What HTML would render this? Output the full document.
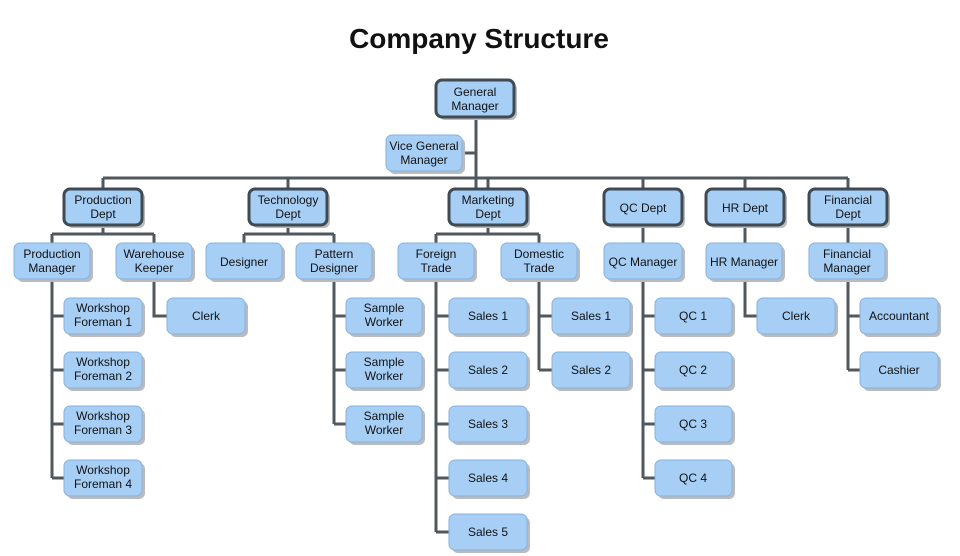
<!DOCTYPE html>
<html><head><meta charset="utf-8"><style>
html,body{margin:0;padding:0;background:#fff;}
svg{display:block}
text{font-family:"Liberation Sans",Arial,sans-serif;font-size:12px;fill:#111;text-anchor:middle}
.t{font-size:28px;font-weight:bold}
.n{fill:#a7cff6;stroke:#86b2de;stroke-width:1}
.d{fill:#a7cff6;stroke:#3f4a52;stroke-width:3}
.s{fill:#b9bcbf}
.l{stroke:#50585e;stroke-width:3;fill:none}
</style></head><body>
<svg width="960" height="556" viewBox="0 0 960 556">
<text class="t" x="479" y="48">Company Structure</text>
<g class="l">
<path d="M476 117V178M462 153H476M103 178H848"/>
<path d="M103 178V189M288 178V189M488 178V189M643 178V189M745 178V189M848 178V189M476 117V189"/>
<path d="M103 225V234M52 234H154M52 234V243M154 234V243"/>
<path d="M288 225V234M244 234H334M244 234V243M334 234V243"/>
<path d="M488 225V234M436 234H539M436 234V243M539 234V243"/>
<path d="M643 225V243M745 225V243M848 225V243"/>
<path d="M52 279V478M52 316H64M52 370H64M52 424H64M52 478H64"/>
<path d="M154 279V316H167"/>
<path d="M334 279V424M334 316H346M334 370H346M334 424H346"/>
<path d="M436 279V532M436 316H449M436 370H449M436 424H449M436 478H449M436 532H449"/>
<path d="M539 279V370M539 316H552M539 370H552"/>
<path d="M643 279V478M643 316H655M643 370H655M643 424H655M643 478H655"/>
<path d="M745 279V316H757"/>
<path d="M848 279V370M848 316H860M848 370H860"/>
</g>
<g>
<g class="s">
<rect x="439" y="83" width="78" height="37" rx="6"/>
<rect x="389" y="138" width="76" height="36" rx="6"/>
<rect x="67" y="192" width="78" height="36" rx="6"/><rect x="252" y="192" width="78" height="36" rx="6"/><rect x="452" y="192" width="78" height="36" rx="6"/><rect x="607" y="192" width="78" height="36" rx="6"/><rect x="709" y="192" width="78" height="36" rx="6"/><rect x="812" y="192" width="78" height="36" rx="6"/>
<rect x="17" y="246" width="76" height="36" rx="6"/><rect x="119" y="246" width="76" height="36" rx="6"/><rect x="209" y="246" width="76" height="36" rx="6"/><rect x="299" y="246" width="76" height="36" rx="6"/><rect x="401" y="246" width="76" height="36" rx="6"/><rect x="504" y="246" width="76" height="36" rx="6"/><rect x="607" y="246" width="78" height="36" rx="6"/><rect x="709" y="246" width="76" height="36" rx="6"/><rect x="812" y="246" width="76" height="36" rx="6"/>
</g>
<rect class="d" x="436" y="80" width="78" height="37" rx="6"/>
<rect class="n" x="386" y="135" width="76" height="36" rx="6"/>
<rect class="d" x="64" y="189" width="78" height="36" rx="6"/>
<rect class="d" x="249" y="189" width="78" height="36" rx="6"/>
<rect class="d" x="449" y="189" width="78" height="36" rx="6"/>
<rect class="d" x="604" y="189" width="78" height="36" rx="6"/>
<rect class="d" x="706" y="189" width="78" height="36" rx="6"/>
<rect class="d" x="809" y="189" width="78" height="36" rx="6"/>
<rect class="n" x="14" y="243" width="76" height="36" rx="6"/>
<rect class="n" x="116" y="243" width="76" height="36" rx="6"/>
<rect class="n" x="206" y="243" width="76" height="36" rx="6"/>
<rect class="n" x="296" y="243" width="76" height="36" rx="6"/>
<rect class="n" x="398" y="243" width="76" height="36" rx="6"/>
<rect class="n" x="501" y="243" width="76" height="36" rx="6"/>
<rect class="n" x="604" y="243" width="78" height="36" rx="6"/>
<rect class="n" x="706" y="243" width="76" height="36" rx="6"/>
<rect class="n" x="809" y="243" width="76" height="36" rx="6"/>
</g>
<g>
<g class="s">
<rect x="67" y="301" width="78" height="36" rx="6"/><rect x="67" y="355" width="78" height="36" rx="6"/><rect x="67" y="409" width="78" height="36" rx="6"/><rect x="67" y="463" width="78" height="36" rx="6"/>
<rect x="170" y="301" width="78" height="36" rx="6"/>
<rect x="349" y="301" width="76" height="36" rx="6"/><rect x="349" y="355" width="76" height="36" rx="6"/><rect x="349" y="409" width="76" height="36" rx="6"/>
<rect x="452" y="301" width="78" height="36" rx="6"/><rect x="452" y="355" width="78" height="36" rx="6"/><rect x="452" y="409" width="78" height="36" rx="6"/><rect x="452" y="463" width="78" height="36" rx="6"/><rect x="452" y="517" width="78" height="36" rx="6"/>
<rect x="555" y="301" width="78" height="36" rx="6"/><rect x="555" y="355" width="78" height="36" rx="6"/>
<rect x="658" y="301" width="77" height="36" rx="6"/><rect x="658" y="355" width="77" height="36" rx="6"/><rect x="658" y="409" width="77" height="36" rx="6"/><rect x="658" y="463" width="77" height="36" rx="6"/>
<rect x="760" y="301" width="78" height="36" rx="6"/>
<rect x="863" y="301" width="78" height="36" rx="6"/><rect x="863" y="355" width="78" height="36" rx="6"/>
</g>
<g class="n">
<rect x="64" y="298" width="78" height="36" rx="6"/><rect x="64" y="352" width="78" height="36" rx="6"/><rect x="64" y="406" width="78" height="36" rx="6"/><rect x="64" y="460" width="78" height="36" rx="6"/>
<rect x="167" y="298" width="78" height="36" rx="6"/>
<rect x="346" y="298" width="76" height="36" rx="6"/><rect x="346" y="352" width="76" height="36" rx="6"/><rect x="346" y="406" width="76" height="36" rx="6"/>
<rect x="449" y="298" width="78" height="36" rx="6"/><rect x="449" y="352" width="78" height="36" rx="6"/><rect x="449" y="406" width="78" height="36" rx="6"/><rect x="449" y="460" width="78" height="36" rx="6"/><rect x="449" y="514" width="78" height="36" rx="6"/>
<rect x="552" y="298" width="78" height="36" rx="6"/><rect x="552" y="352" width="78" height="36" rx="6"/>
<rect x="655" y="298" width="77" height="36" rx="6"/><rect x="655" y="352" width="77" height="36" rx="6"/><rect x="655" y="406" width="77" height="36" rx="6"/><rect x="655" y="460" width="77" height="36" rx="6"/>
<rect x="757" y="298" width="78" height="36" rx="6"/>
<rect x="860" y="298" width="78" height="36" rx="6"/><rect x="860" y="352" width="78" height="36" rx="6"/>
</g>
</g>
<text x="475" y="96">General</text><text x="475" y="110">Manager</text>
<text x="424" y="150">Vice General</text><text x="424" y="164">Manager</text>
<text x="103" y="204">Production</text><text x="103" y="218">Dept</text>
<text x="288" y="204">Technology</text><text x="288" y="218">Dept</text>
<text x="488" y="204">Marketing</text><text x="488" y="218">Dept</text>
<text x="643" y="212">QC Dept</text>
<text x="745" y="212">HR Dept</text>
<text x="848" y="204">Financial</text><text x="848" y="218">Dept</text>
<text x="52" y="258">Production</text><text x="52" y="272">Manager</text>
<text x="154" y="258">Warehouse</text><text x="154" y="272">Keeper</text>
<text x="244" y="266">Designer</text>
<text x="334" y="258">Pattern</text><text x="334" y="272">Designer</text>
<text x="436" y="258">Foreign</text><text x="436" y="272">Trade</text>
<text x="539" y="258">Domestic</text><text x="539" y="272">Trade</text>
<text x="643" y="266">QC Manager</text>
<text x="744" y="266">HR Manager</text>
<text x="847" y="258">Financial</text><text x="847" y="272">Manager</text>
<text x="103" y="312">Workshop</text><text x="103" y="326">Foreman 1</text>
<text x="103" y="366">Workshop</text><text x="103" y="380">Foreman 2</text>
<text x="103" y="420">Workshop</text><text x="103" y="434">Foreman 3</text>
<text x="103" y="474">Workshop</text><text x="103" y="488">Foreman 4</text>
<text x="206" y="320">Clerk</text>
<text x="384" y="312">Sample</text><text x="384" y="326">Worker</text>
<text x="384" y="366">Sample</text><text x="384" y="380">Worker</text>
<text x="384" y="420">Sample</text><text x="384" y="434">Worker</text>
<text x="488" y="320">Sales 1</text><text x="488" y="374">Sales 2</text><text x="488" y="428">Sales 3</text><text x="488" y="482">Sales 4</text><text x="488" y="536">Sales 5</text>
<text x="591" y="320">Sales 1</text><text x="591" y="374">Sales 2</text>
<text x="693" y="320">QC 1</text><text x="693" y="374">QC 2</text><text x="693" y="428">QC 3</text><text x="693" y="482">QC 4</text>
<text x="796" y="320">Clerk</text>
<text x="899" y="320">Accountant</text><text x="899" y="374">Cashier</text>
</svg>
</body></html>
